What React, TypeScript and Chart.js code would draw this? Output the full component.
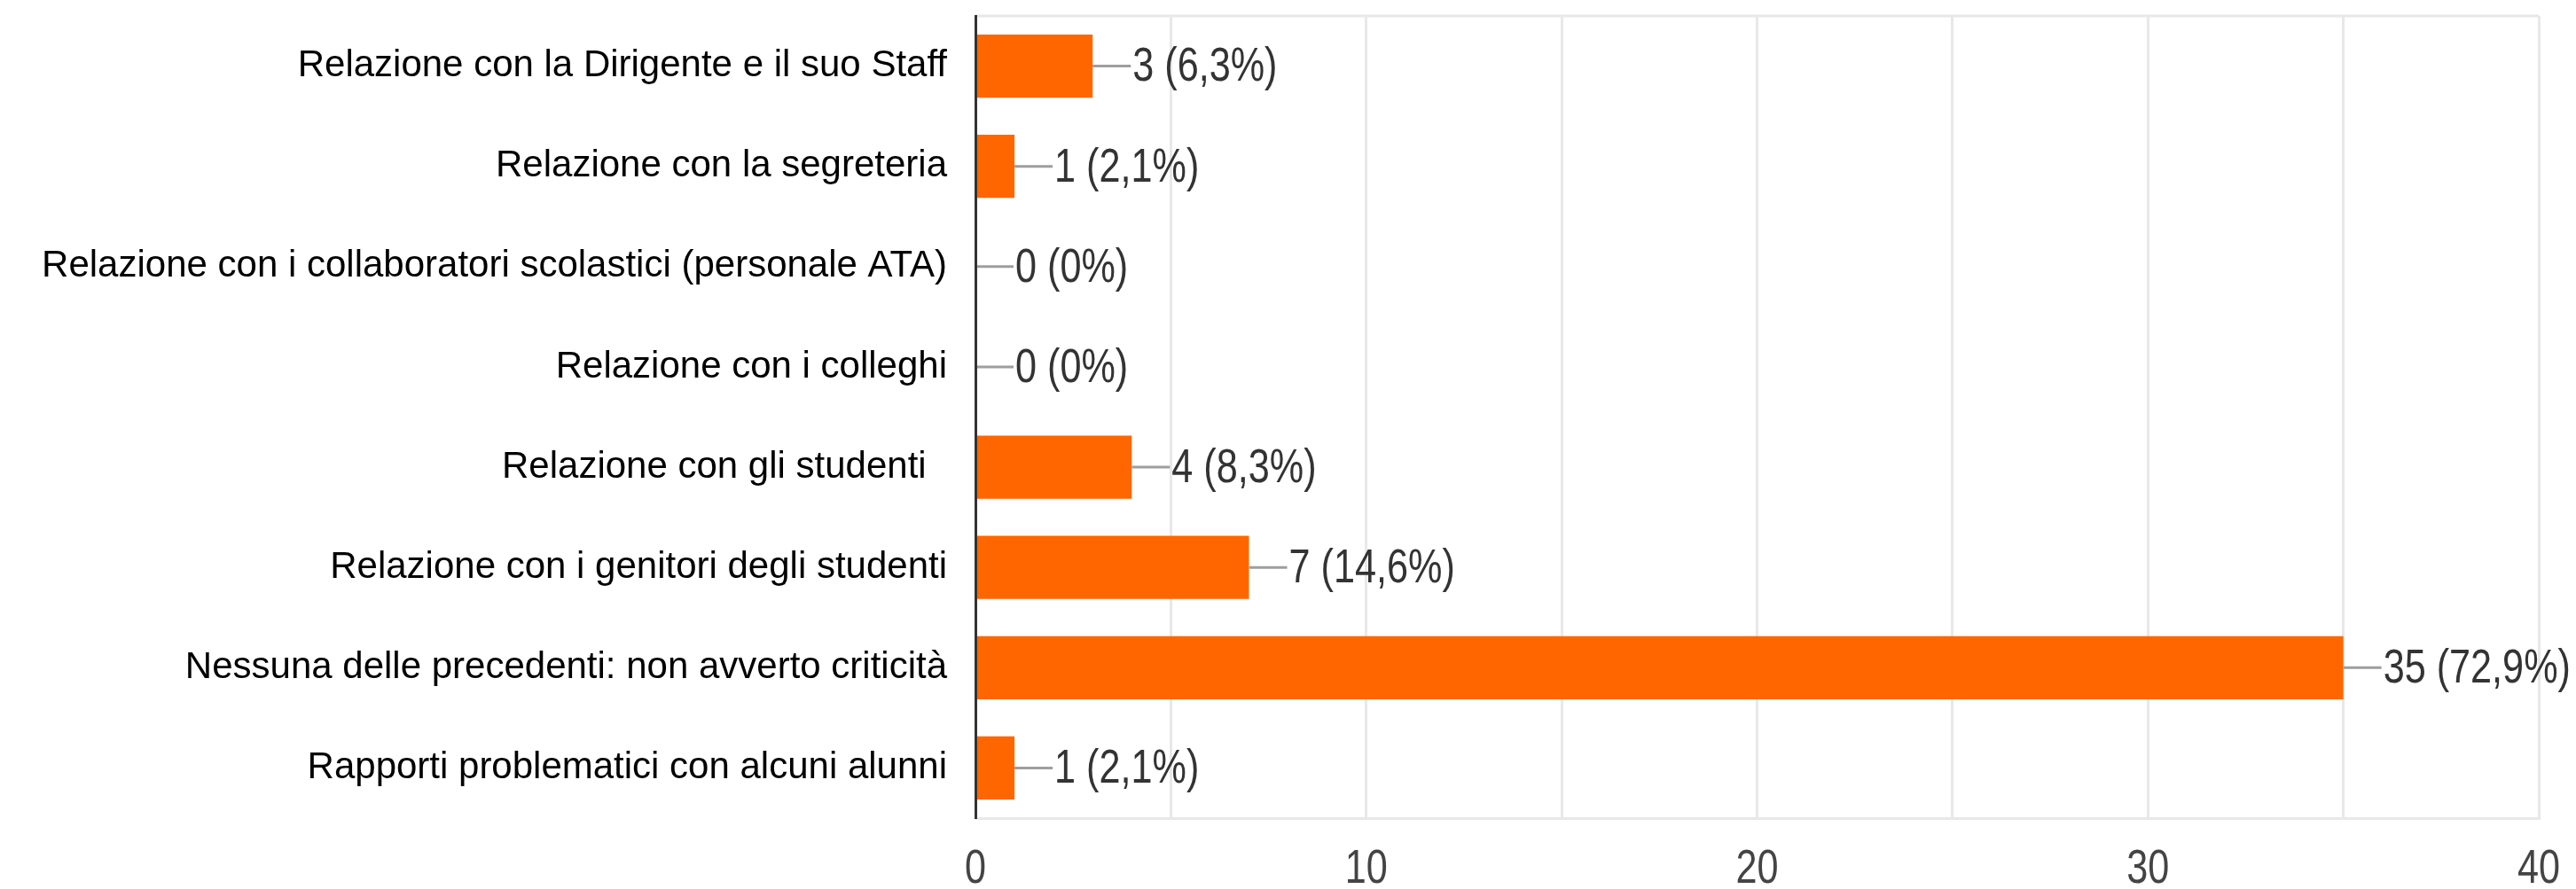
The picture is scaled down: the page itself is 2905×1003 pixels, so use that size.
import React, { useEffect, useRef } from "react";
import { Chart, registerables } from "chart.js";

Chart.register(...registerables);

const categories = [
  "Relazione con la Dirigente e il suo Staff",
  "Relazione con la segreteria",
  "Relazione con i collaboratori scolastici (personale ATA)",
  "Relazione con i colleghi",
  "Relazione con gli studenti  ",
  "Relazione con i genitori degli studenti",
  "Nessuna delle precedenti: non avverto criticità",
  "Rapporti problematici con alcuni alunni",
];
const counts = [3, 1, 0, 0, 4, 7, 35, 1];
const percentLabels = ["6,3%", "2,1%", "0%", "0%", "8,3%", "14,6%", "72,9%", "2,1%"];
const xTickLabels = [0, 10, 20, 30, 40];

const W = 2905;
const H = 1003;
const BAR_COLOR = "#ff6600";
const GRID_COLOR = "#e8e8e8";
const REGULAR = "'Liberation Sans', Arial, sans-serif";

function drawCondensed(ctx: CanvasRenderingContext2D, text: string, x: number, y: number, align: "left" | "center") {
  ctx.save();
  ctx.font = `54px ${REGULAR}`;
  ctx.textBaseline = "middle";
  ctx.textAlign = align;
  ctx.translate(x, y);
  ctx.scale(0.8, 1);
  ctx.fillText(text, 0, 0);
  ctx.restore();
}

export default function App() {
  const ref = useRef<HTMLCanvasElement | null>(null);

  useEffect(() => {
    const canvas = ref.current;
    if (!canvas) return;

    const valueLabels = {
      id: "valueLabels",
      beforeDatasetsDraw(chart: any) {
        const { ctx, chartArea } = chart;
        ctx.save();
        ctx.strokeStyle = GRID_COLOR;
        ctx.lineWidth = 3;
        ctx.beginPath();
        ctx.moveTo(chartArea.left, chartArea.top);
        ctx.lineTo(chartArea.right, chartArea.top);
        ctx.stroke();
        ctx.restore();
      },
      afterDatasetsDraw(chart: any) {
        const { ctx } = chart;
        const meta = chart.getDatasetMeta(0);
        ctx.save();
        meta.data.forEach((el: any, i: number) => {
          const x = el.x;
          const y = el.y;
          ctx.strokeStyle = "#9e9e9e";
          ctx.lineWidth = 3;
          ctx.beginPath();
          ctx.moveTo(x, y);
          ctx.lineTo(x + 43, y);
          ctx.stroke();
          ctx.fillStyle = "#333333";
          drawCondensed(ctx, `${counts[i]} (${percentLabels[i]})`, x + 45, y + 2, "left");
        });
        ctx.restore();
      },
      afterDraw(chart: any) {
        const { ctx } = chart;
        const xs = chart.scales.x;
        ctx.save();
        ctx.fillStyle = "#444444";
        xTickLabels.forEach((v) => {
          drawCondensed(ctx, String(v), xs.getPixelForValue(v), xs.top + 58, "center");
        });
        ctx.restore();
      },
    };

    const chart = new Chart(canvas, {
      type: "bar",
      data: {
        labels: categories,
        datasets: [
          {
            data: counts,
            backgroundColor: BAR_COLOR,
            borderWidth: 0,
            barPercentage: 0.63,
            categoryPercentage: 1,
          },
        ],
      },
      options: {
        indexAxis: "y",
        responsive: false,
        animation: false,
        devicePixelRatio: 1,
        layout: { padding: { top: 18, right: 42, bottom: 0, left: 0 } },
        plugins: {
          legend: { display: false },
          tooltip: { enabled: false },
        },
        scales: {
          x: {
            min: 0,
            max: 40,
            grid: { color: GRID_COLOR, lineWidth: 3, drawTicks: false },
            border: { color: GRID_COLOR, width: 3 },
            ticks: {
              display: false,
              stepSize: 5,
              autoSkip: false,
              maxRotation: 0,
            },
            afterFit: (s: any) => {
              s.height = 80;
              s.paddingLeft = 0;
              s.paddingRight = 0;
              s.paddingTop = 0;
              s.paddingBottom = 0;
            },
          },
          y: {
            grid: { display: false, drawTicks: false },
            border: { color: "#333333", width: 3, z: 1 },
            ticks: {
              padding: 32,
              color: "#000000",
              font: { family: REGULAR, size: 42 },
              autoSkip: false,
            },
            afterFit: (s: any) => {
              s.width = 1100;
              s.paddingTop = 0;
              s.paddingBottom = 0;
              s.paddingLeft = 0;
              s.paddingRight = 0;
            },
          },
        },
      },
      plugins: [valueLabels],
    } as any);

    return () => chart.destroy();
  }, []);

  return (
    <div style={{ position: "absolute", left: 0, top: 0, width: W, height: H, background: "#ffffff" }}>
      <canvas ref={ref} width={W} height={H} style={{ width: W, height: H, display: "block" }} />
    </div>
  );
}
